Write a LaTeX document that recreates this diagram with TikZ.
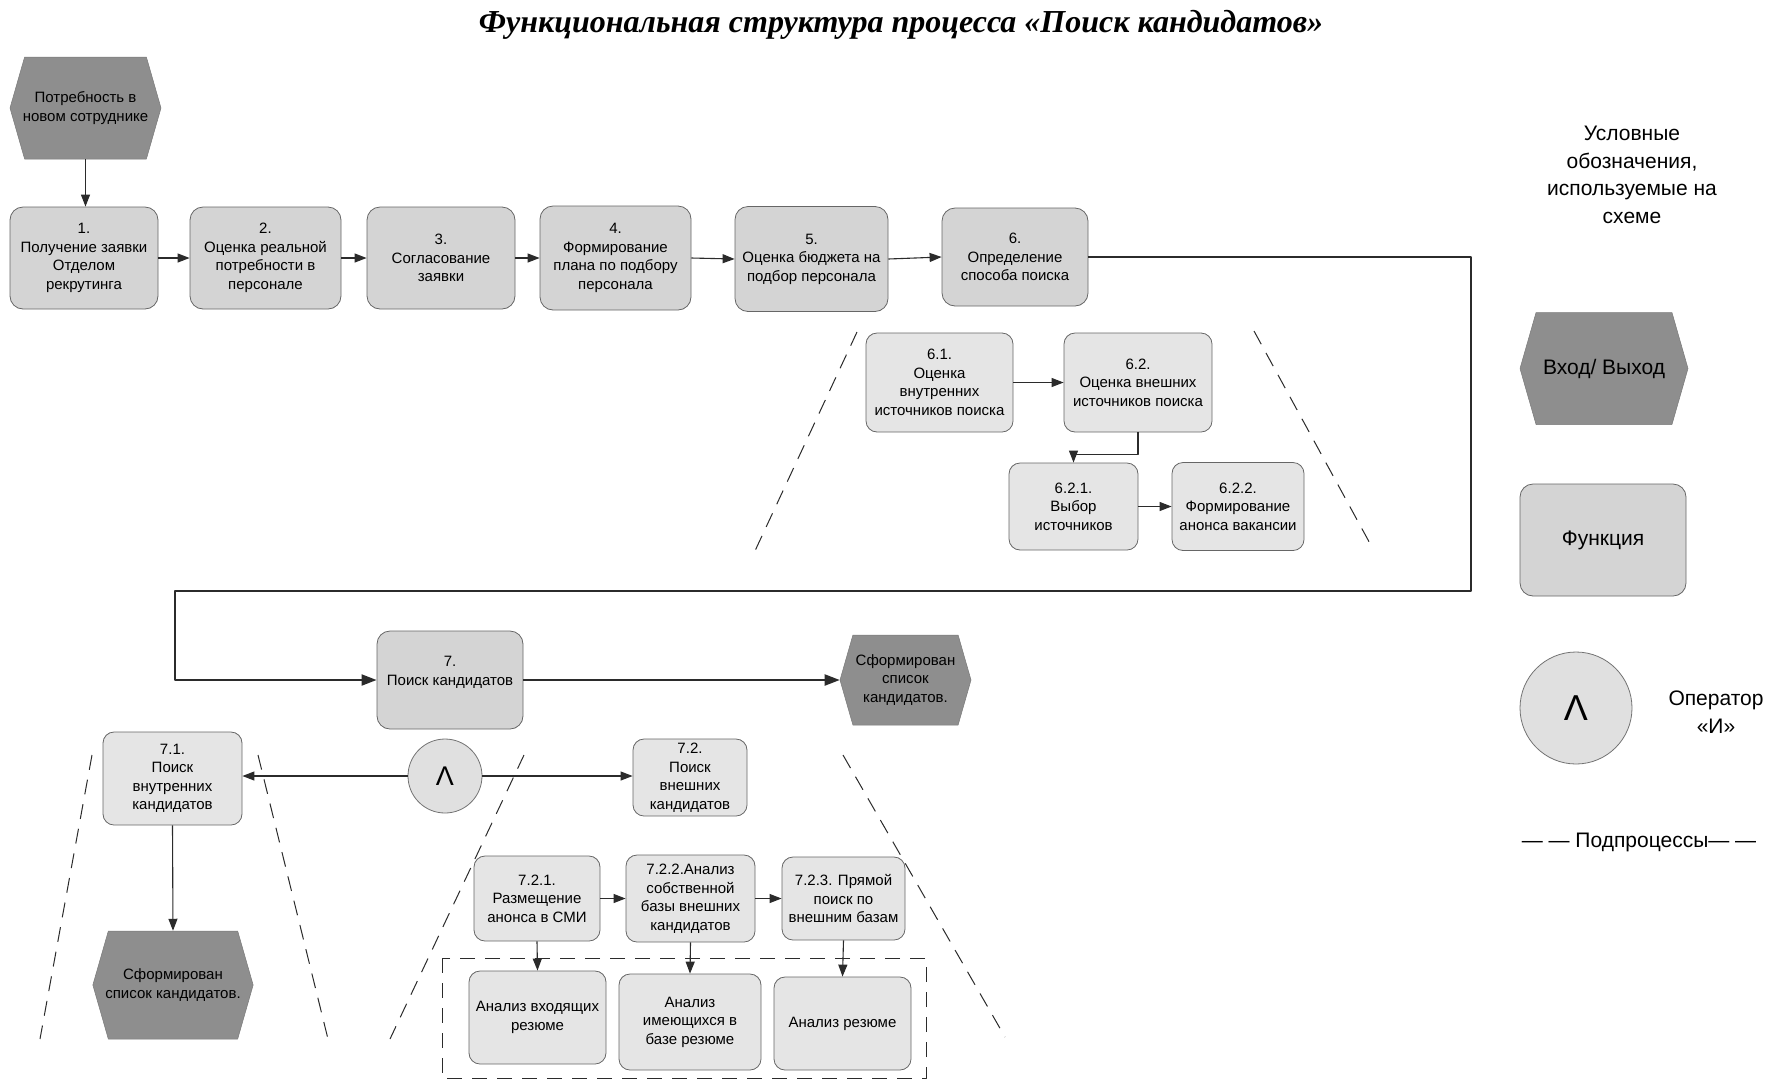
\documentclass[tikz,border=0pt]{standalone}
\usepackage{fontspec}
\setmainfont{Liberation Sans}
\newfontfamily\titlefont{Liberation Serif}
\usepackage{tikz}
\usetikzlibrary{positioning,shapes.symbols,arrows.meta}

\definecolor{fnfill}{HTML}{D4D4D4}
\definecolor{subfill}{HTML}{E5E5E5}
\definecolor{evfill}{HTML}{8E8E8E}
\definecolor{andfill}{HTML}{E0E0E0}
\definecolor{linecol}{HTML}{2B2B2B}

\begin{document}
\begin{tikzpicture}[
    x=1pt, y=-1pt,
    fbox/.style = {
        rectangle,
        draw=black!60,
        line width=0.8pt,
        rounded corners=13pt,
        fill=fnfill,
        align=center,
        font=\fontsize{15}{18.5}\selectfont,
        inner sep=2pt
    },
    subbox/.style = {fbox, fill=subfill, rounded corners=11pt},
    event/.style  = {
        signal, signal to=east and west, signal pointer angle=148,
        fill=evfill, draw=evfill!85!black, line width=0.5pt,
        align=center, font=\fontsize{15}{18.5}\selectfont,
        inner xsep=-3pt, inner ysep=1pt
    },
    andop/.style  = {circle, draw=black!55, fill=andfill, line width=0.8pt,
        font=\fontsize{27}{27}\selectfont, inner sep=0pt},
    arrow/.style    = {-{Triangle[length=12pt,width=9pt]}, line width=1.1pt, draw=linecol},
    mainarrow/.style = {-{Triangle[length=15pt,width=11pt]}, line width=2pt, draw=linecol},
    bound/.style    = {dash pattern=on 15pt off 10pt, line width=1pt, draw=linecol},
    legtext/.style  = {align=center, font=\fontsize{21}{27.5}\selectfont},
    line join=round
]
\useasboundingbox (0,0) rectangle (1778,1088);

% Title
\node (title) at (901,25)
    {\titlefont\bfseries\itshape\fontsize{32}{36}\selectfont Функциональная структура процесса «Поиск кандидатов»};

% Row 1: input and steps 1-6
\node[event, minimum width=151pt, minimum height=102pt] (need) at (85.5,108)
    {Потребность в\\новом сотруднике};

\node[fbox, minimum width=148pt, minimum height=102pt] (s1) at (84,258)
    {1.\\Получение заявки\\Отделом\\рекрутинга};
\node[fbox, minimum width=151pt, minimum height=102pt] (s2) at (265.5,258)
    {2.\\Оценка реальной\\потребности в\\персонале};
\node[fbox, minimum width=148pt, minimum height=102pt] (s3) at (441,258)
    {3.\\Согласование\\заявки};
\node[fbox, minimum width=151pt, minimum height=104pt] (s4) at (615.5,258)
    {4.\\Формирование\\плана по подбору\\персонала};
\node[fbox, minimum width=153pt, minimum height=105pt] (s5) at (811.5,259)
    {5.\\Оценка бюджета на\\подбор персонала};
\node[fbox, minimum width=146pt, minimum height=98pt] (s6) at (1015,257)
    {6.\\Определение\\способа поиска};

% Subprocess of step 6
\node[subbox, minimum width=147pt, minimum height=99pt] (s61) at (939.5,382.5)
    {6.1.\\Оценка\\внутренних\\источников поиска};
\node[subbox, minimum width=148pt, minimum height=99pt] (s62) at (1138,382.5)
    {6.2.\\Оценка внешних\\источников поиска};
\node[subbox, minimum width=129pt, minimum height=87pt] (s621) at (1073.5,506.5)
    {6.2.1.\\Выбор\\источников};
\node[subbox, minimum width=132pt, minimum height=88pt] (s622) at (1238,506.5)
    {6.2.2.\\Формирование\\анонса вакансии};

% Row 2: step 7 and its result
\node[fbox, minimum width=146pt, minimum height=98pt] (s7) at (450,680)
    {7.\\Поиск кандидатов\\\mbox{}};
\node[event, minimum width=131pt, minimum height=90pt] (done) at (905.5,680)
    {Сформирован\\список\\кандидатов.};
\node[andop, minimum size=74pt] (and) at (445,776) {Λ};

% Subprocess of step 7
\node[subbox, minimum width=139pt, minimum height=93pt] (s71) at (172.5,778.5)
    {7.1.\\Поиск\\внутренних\\кандидатов};
\node[event, minimum width=160pt, minimum height=108pt] (doneint) at (173,985)
    {Сформирован\\список кандидатов.};
\node[subbox, minimum width=114pt, minimum height=77pt] (s72) at (690,777.5)
    {7.2.\\Поиск\\внешних\\кандидатов};
\node[subbox, minimum width=126pt, minimum height=85pt] (s721) at (537,898.5)
    {7.2.1.\\Размещение\\анонса в СМИ};
\node[subbox, minimum width=129pt, minimum height=87pt] (s722) at (690.5,898.5)
    {7.2.2.Анализ\\собственной\\базы внешних\\кандидатов};
\node[subbox, minimum width=123pt, minimum height=83pt] (s723) at (843.5,898.5)
    {7.2.3. Прямой\\поиск по\\внешним базам};
\node[subbox, minimum width=137pt, minimum height=93pt] (cv1) at (537.5,1017.5)
    {Анализ входящих\\резюме};
\node[subbox, minimum width=142pt, minimum height=96pt] (cv2) at (690,1022)
    {Анализ\\имеющихся в\\базе резюме};
\node[subbox, minimum width=137pt, minimum height=93pt] (cv3) at (842.5,1023.5)
    {Анализ резюме};

% Arrows - row 1
\draw[arrow] (need.south) -- (need.south |- s1.north);
\draw[arrow] (s1.east) -- (s2.west);
\draw[arrow] (s2.east) -- (s3.west);
\draw[arrow] (s3.east) -- (s4.west);
\draw[arrow] (s4.east) -- (s5.west);
\draw[arrow] (s5.east) -- (s6.west);

% Arrows - subprocess 6
\draw[arrow] (s61.east) -- (s62.west);
\draw[arrow] (s62.south) -- ++(0,22) -| (s621.north);
\draw[arrow] (s621.east) -- (s622.west);

% Link from step 6 to step 7
\draw[mainarrow] (s6.east) -- (1471,257) -- (1471,591) -- (175,591) |- (s7.west);
\draw[mainarrow] (s7.east) -- (done.west);

% Arrows - subprocess 7
\draw[arrow] (and.west) -- (and.west -| s71.east);
\draw[arrow] (and.east) -- (and.east -| s72.west);
\draw[arrow] (s71.south) -- (doneint.north);
\draw[arrow] (s721.east) -- (s722.west);
\draw[arrow] (s722.east) -- (s723.west);
\draw[arrow] (s721.south) -- (cv1.north);
\draw[arrow] (s722.south) -- (cv2.north);
\draw[arrow] (s723.south) -- (cv3.north);
\draw[bound] (442,958) rectangle (926,1078);

% Subprocess bounds
\draw[bound] (857,332) -- (754,553);
\draw[bound] (1254,331) -- (1373,549);
\draw[bound] (92,755) -- (40,1039);
\draw[bound] (258,755) -- (328,1039);
\draw[bound] (524,755) -- (390,1039);
\draw[bound] (843,755) -- (1005,1037);

% Legend
\node[legtext] (legtitle) at (1632,175)
    {Условные\\обозначения,\\используемые на\\схеме};
\node[event, minimum width=168pt, minimum height=112pt, font=\fontsize{21}{25}\selectfont] (legevent) at (1604,368.5)
    {Вход/ Выход};
\node[fbox, minimum width=166pt, minimum height=112pt, font=\fontsize{21}{25}\selectfont] (legfunc) at (1603,540)
    {Функция};
\node[andop, minimum size=112pt, font=\fontsize{36}{36}\selectfont] (legand) at (1576,708) {Λ};
\node[legtext] (legandtxt) at (1716,712) {Оператор\\«И»};
\node[legtext] (legsub) at (1639,842) {— — Подпроцессы— —};

\end{tikzpicture}
\end{document}
